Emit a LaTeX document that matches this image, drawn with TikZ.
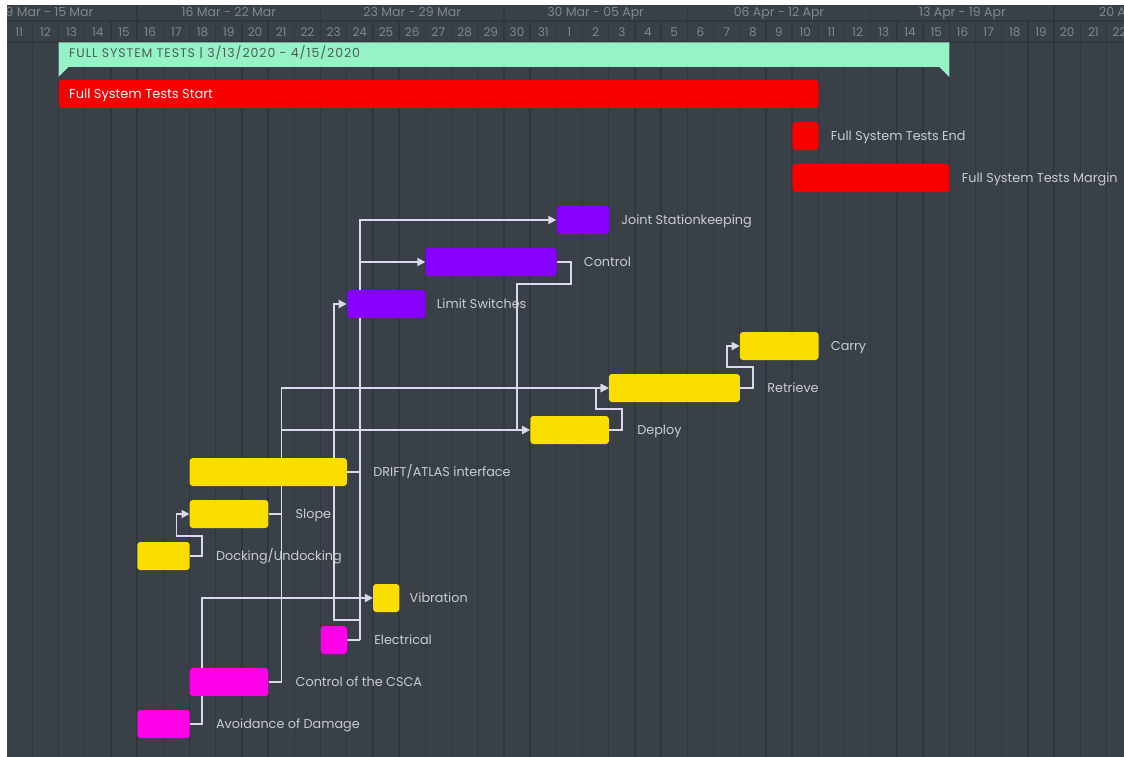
\documentclass[tikz,border=0pt]{standalone}
\usepackage{fontspec}
\setmainfont{Poppins}
\usetikzlibrary{arrows.meta}

\definecolor{bgc}{HTML}{3A4048}
\definecolor{gridc}{HTML}{30363D}
\definecolor{headtxt}{HTML}{80878F}
\definecolor{lbltxt}{HTML}{C9CCD0}
\definecolor{linkc}{HTML}{DCD6EE}
\definecolor{taskred}{HTML}{F60000}
\definecolor{summint}{HTML}{96F2C7}
\definecolor{sumtxt}{HTML}{4E5C57}
\definecolor{taskyellow}{HTML}{F9DE00}
\definecolor{taskpurple}{HTML}{8800FF}
\definecolor{taskmagenta}{HTML}{FF00E8}

% left edge of day column #1 (column 0 = 11 Mar)
\newcommand\colx[1]{6.1+26.2*(#1)}

\pgfdeclarelayer{grid}
\pgfdeclarelayer{links}
\pgfsetlayers{grid,links,main}

\begin{document}
\begin{tikzpicture}[x=1pt,y=-1pt,
  gridline/.style={draw=gridc,line width=1.4pt},
  daynum/.style={text=headtxt,font=\fontsize{12}{13}\selectfont,inner sep=0,text height=8.4pt,text depth=0pt},
  weeklbl/.style={text=headtxt,font=\fontsize{12.5}{14}\selectfont,inner sep=0,text height=8.8pt,text depth=0pt},
  bar/.style={rectangle,rounded corners=3pt,minimum height=28pt,inner sep=0,anchor=west},
  lbl/.style={text=lbltxt,font=\fontsize{12.8}{14}\selectfont,inner sep=0,anchor=west,text height=9pt,text depth=0pt},
  link/.style={draw=linkc,line width=1.8pt},
  arr/.style={-{Triangle[length=8pt,width=8pt]}}]
\useasboundingbox (0,0) rectangle (1124,757);

% chart canvas, day grid and header
\begin{pgfonlayer}{grid}
  \fill[white] (0,0) rectangle (1124,757);
  \begin{scope}
    \clip (7,5) rectangle (1124,757);
    \fill[bgc] (7,5) rectangle (1124,757);
    \foreach \k in {1,...,43} \draw[gridline] ({\colx{\k}},21) -- ({\colx{\k}},757);
    \foreach \j in {0,...,5} \draw[gridline] ({\colx{5+7*\j}},5) -- ({\colx{5+7*\j}},21);
    \draw[gridline] (7,21) -- (1124,21);
    \draw[gridline] (7,42) -- (1124,42);
    \foreach \d [count=\k from 0] in {11,...,31}
      \node[daynum] (dm\k) at ({\colx{\k+0.5}},32) {\d};
    \foreach \d [count=\k from 21] in {1,...,22}
      \node[daynum] (da\k) at ({\colx{\k+0.5}},32) {\d};
    \node[weeklbl] (wk0) at (49.5,12.5) {9 Mar - 15 Mar};
    \foreach \w [count=\j from 1] in {16 Mar - 22 Mar,23 Mar - 29 Mar,
        30 Mar - 05 Apr,06 Apr - 12 Apr,13 Apr - 19 Apr,20 Apr - 26 Apr}
      \node[weeklbl] (wk\j) at ({\colx{7*\j+1.5}},12.5) {\w};
  \end{scope}
\end{pgfonlayer}

% summary bar
\fill[summint] ({\colx{2}},42.5) rectangle ({\colx{36}},67)
  -- ({\colx{36}},77) -- ({\colx{36}-10},67) -- cycle;
\fill[summint] ({\colx{2}},67) -- ({\colx{2}},77) -- ({\colx{2}+10},67) -- cycle;
\node[lbl,text=sumtxt,font=\fontsize{12.5}{14}\selectfont\addfontfeatures{LetterSpace=7.5}]
  (sum) at (69,53) {FULL SYSTEM TESTS | 3/13/2020 - 4/15/2020};

% task bars
\node[bar,fill=taskred,minimum width={29*26.2pt}] (fstart) at ({\colx{2}},94) {};
\node[lbl,text=white,font=\fontsize{13}{14}\selectfont] (fstartl) at (69,94) {Full System Tests Start};
\node[bar,fill=taskred,minimum width={1*26.2pt}] (fend) at ({\colx{30}},136) {};
\node[bar,fill=taskred,minimum width={6*26.2pt}] (fmargin) at ({\colx{30}},178) {};
\node[bar,fill=taskpurple,minimum width={2*26.2pt}] (joint) at ({\colx{21}},220) {};
\node[bar,fill=taskpurple,minimum width={5*26.2pt}] (control) at ({\colx{16}},262) {};
\node[bar,fill=taskpurple,minimum width={3*26.2pt}] (limit) at ({\colx{13}},304) {};
\node[bar,fill=taskyellow,minimum width={3*26.2pt}] (carry) at ({\colx{28}},346) {};
\node[bar,fill=taskyellow,minimum width={5*26.2pt}] (retrieve) at ({\colx{23}},388) {};
\node[bar,fill=taskyellow,minimum width={3*26.2pt}] (deploy) at ({\colx{20}},430) {};
\node[bar,fill=taskyellow,minimum width={6*26.2pt}] (drift) at ({\colx{7}},472) {};
\node[bar,fill=taskyellow,minimum width={3*26.2pt}] (slope) at ({\colx{7}},514) {};
\node[bar,fill=taskyellow,minimum width={2*26.2pt}] (dock) at ({\colx{5}},556) {};
\node[bar,fill=taskyellow,minimum width={1*26.2pt}] (vib) at ({\colx{14}},598) {};
\node[bar,fill=taskmagenta,minimum width={1*26.2pt}] (elec) at ({\colx{12}},640) {};
\node[bar,fill=taskmagenta,minimum width={3*26.2pt}] (csca) at ({\colx{7}},682) {};
\node[bar,fill=taskmagenta,minimum width={2*26.2pt}] (avoid) at ({\colx{5}},724) {};

% task labels
\node[lbl] (fendl) at ([xshift=12pt]fend.east) {Full System Tests End};
\node[lbl] (fmarginl) at ([xshift=12pt]fmargin.east) {Full System Tests Margin};
\node[lbl] (jointl) at ([xshift=12pt]joint.east) {Joint Stationkeeping};
\node[lbl] (controll) at ([xshift=27pt]control.east) {Control};
\node[lbl] (limitl) at ([xshift=11pt]limit.east) {Limit Switches};
\node[lbl] (carryl) at ([xshift=12pt]carry.east) {Carry};
\node[lbl] (retrievel) at ([xshift=27pt]retrieve.east) {Retrieve};
\node[lbl] (deployl) at ([xshift=28pt]deploy.east) {Deploy};
\node[lbl] (driftl) at ([xshift=26pt]drift.east) {DRIFT/ATLAS interface};
\node[lbl] (slopel) at ([xshift=27pt]slope.east) {Slope};
\node[lbl] (dockl) at ([xshift=26pt]dock.east) {Docking/Undocking};
\node[lbl] (vibl) at ([xshift=10pt]vib.east) {Vibration};
\node[lbl] (elecl) at ([xshift=27pt]elec.east) {Electrical};
\node[lbl] (cscal) at ([xshift=27pt]csca.east) {Control of the CSCA};
\node[lbl] (avoidl) at ([xshift=26pt]avoid.east) {Avoidance of Damage};

% dependency links, drawn beneath the bars
\begin{pgfonlayer}{links}
  \draw[link,arr] (dock.east) -- ++(12,0) -- ++(0,-20) -| ([xshift=-13pt]slope.west) -- (slope.west);
  % bus from Slope and Control of the CSCA
  \draw[link] (csca.east) -- ++(13,0) coordinate (busA);
  \draw[link,arr] (busA) |- (retrieve.west);
  \draw[link] (slope.east) -- (slope.east -| busA);
  \draw[link,arr] (deploy.west -| busA) -- (deploy.west);
  % bus from DRIFT/ATLAS interface and Electrical
  \draw[link] (elec.east) -- ++(13,0) coordinate (busB);
  \draw[link,arr] (busB) |- (joint.west);
  \draw[link] (drift.east) -- (drift.east -| busB);
  \draw[link,arr] (control.west -| busB) -- (control.west);
  \draw[link,arr] ([yshift=20pt]busB) -- ++(-26,0) |- (limit.west);
  % remaining chains
  \draw[link] (control.east) -- ++(14,0) -- ++(0,22) -| ([xshift=-13pt]deploy.west);
  \draw[link,arr] (deploy.east) -- ++(13,0) -- ++(0,-21) -| ([xshift=-13pt]retrieve.west) -- (retrieve.west);
  \draw[link,arr] (retrieve.east) -- ++(13,0) -- ++(0,-21) -| ([xshift=-13pt]carry.west) -- (carry.west);
  \draw[link,arr] (avoid.east) -- ++(12,0) |- (vib.west);
\end{pgfonlayer}
\end{tikzpicture}
\end{document}
